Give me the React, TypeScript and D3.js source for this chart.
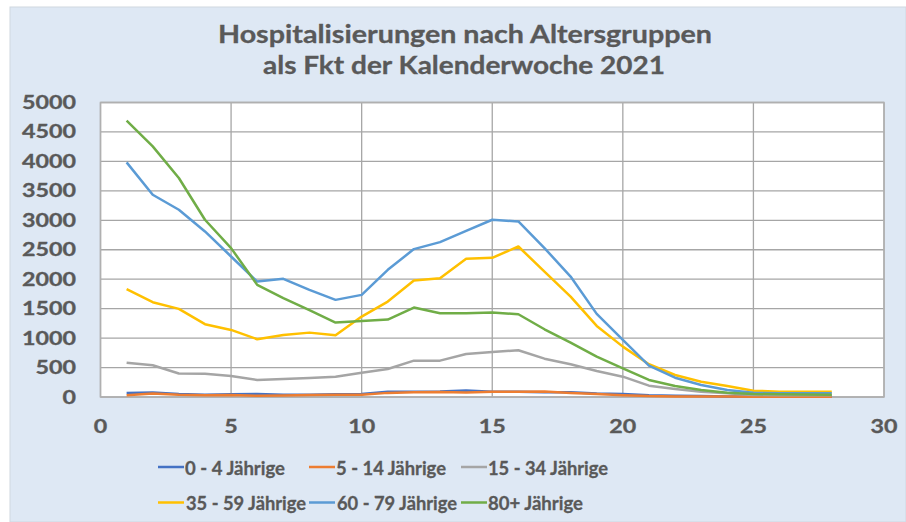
import React from "react";
import * as d3 from "d3";

const weeks = d3.range(1, 29);
const seriesNames = ["0 - 4 Jährige", "5 - 14 Jährige", "15 - 34 Jährige", "35 - 59 Jährige", "60 - 79 Jährige", "80+ Jährige"];
const seriesColors = ["#4472C4", "#ED7D31", "#A5A5A5", "#FFC000", "#5B9BD5", "#70AD47"];

const age0to4 = [70, 75, 50, 40, 45, 50, 40, 40, 45, 50, 90, 90, 95, 110, 90, 90, 80, 80, 60, 50, 30, 20, 15, 10, 10, 10, 10, 10];
const age5to14 = [30, 60, 40, 30, 35, 20, 25, 35, 40, 40, 70, 80, 85, 75, 90, 90, 95, 70, 50, 30, 15, 10, 10, 10, 5, 5, 5, 5];
const age15to34 = [583, 539, 400, 396, 357, 289, 306, 323, 345, 413, 476, 617, 617, 731, 765, 794, 651, 556, 440, 345, 192, 136, 90, 63, 34, 30, 30, 30];
const age35to59 = [1831, 1610, 1496, 1236, 1139, 981, 1054, 1093, 1048, 1365, 1620, 1977, 2017, 2346, 2363, 2555, 2130, 1705, 1207, 855, 556, 374, 260, 187, 107, 90, 90, 90];
const age60to79 = [3984, 3434, 3179, 2811, 2385, 1960, 2006, 1819, 1649, 1734, 2159, 2511, 2630, 2822, 3009, 2980, 2528, 2045, 1411, 969, 533, 328, 204, 119, 73, 63, 63, 63];
const age80plus = [4692, 4255, 3718, 3009, 2528, 1904, 1678, 1475, 1263, 1292, 1314, 1518, 1422, 1422, 1433, 1405, 1150, 924, 685, 487, 289, 187, 119, 73, 51, 45, 42, 40];
const seriesValues = [age0to4, age5to14, age15to34, age35to59, age60to79, age80plus];

const yTicks = [0, 500, 1000, 1500, 2000, 2500, 3000, 3500, 4000, 4500, 5000];
const xTicks = [0, 5, 10, 15, 20, 25, 30];

const FONT = "Lato, 'Open Sans', sans-serif";
const TXT = "#595959";

export default function App() {
  const W = 906, H = 522;
  const left = 100.5, right = 884, top = 102.5, bottom = 397;
  const x = d3.scaleLinear().domain([0, 30]).range([left, right]);
  const y = d3.scaleLinear().domain([0, 5000]).range([bottom, top]);
  const line = d3.line<number>().x((_, i) => x(weeks[i])).y((d) => y(d));

  const labelWidth = (s: string) => s.length * 13.5;

  const legendRows = [
    [{ i: 0, lx: 158, tx: 185, tw: 100 }, { i: 1, lx: 309, tx: 336, tw: 110 }, { i: 2, lx: 461, tx: 488, tw: 120 }],
    [{ i: 3, lx: 158, tx: 186, tw: 120 }, { i: 4, lx: 309, tx: 337, tw: 120 }, { i: 5, lx: 461, tx: 488, tw: 95 }],
  ];
  const legendY = [467, 502.5];

  const textStyle = { fontFamily: FONT, fontWeight: 700, fill: TXT, stroke: TXT, strokeWidth: 0.3 } as const;

  return (
    <svg width={W} height={H} style={{ position: "absolute", left: 0, top: 0 }}>
      <rect x={0} y={0} width={W} height={H} fill="#ffffff" />
      <rect x={10} y={7} width={W - 10} height={H - 7} fill="#DEE8F4" stroke="#D0D7E0" strokeWidth={1} />
      <text x={465} y={43} textAnchor="middle" fontSize={24} {...textStyle} textLength={494} lengthAdjust="spacingAndGlyphs">Hospitalisierungen nach Altersgruppen</text>
      <text x={464} y={74} textAnchor="middle" fontSize={24} {...textStyle} textLength={402} lengthAdjust="spacingAndGlyphs">als Fkt der Kalenderwoche 2021</text>

      <rect x={left} y={top} width={right - left} height={bottom - top} fill="#ffffff" />
      {yTicks.map((t) => (
        <line key={"gy" + t} x1={left} x2={right} y1={y(t)} y2={y(t)} stroke="#A6A6A6" strokeWidth={1.3} />
      ))}
      {xTicks.map((t) => (
        <line key={"gx" + t} x1={x(t)} x2={x(t)} y1={top} y2={bottom} stroke="#A6A6A6" strokeWidth={1.3} />
      ))}
      <rect x={left} y={top} width={right - left} height={bottom - top} fill="none" stroke="#B0B0B0" strokeWidth={1.5} />

      {seriesValues.map((vals, i) => (
        <path key={"s" + i} d={line(vals) || ""} fill="none" stroke={seriesColors[i]} strokeWidth={2.5} strokeLinejoin="round" />
      ))}

      {yTicks.map((t) => (
        <text key={"ly" + t} x={76} y={y(t) + 6.5} textAnchor="end" fontSize={18} {...textStyle} textLength={labelWidth(String(t))} lengthAdjust="spacingAndGlyphs">{t}</text>
      ))}
      {xTicks.map((t) => (
        <text key={"lx" + t} x={x(t)} y={433} textAnchor="middle" fontSize={18} {...textStyle} textLength={labelWidth(String(t))} lengthAdjust="spacingAndGlyphs">{t}</text>
      ))}

      {legendRows.map((row, r) =>
        row.map((e) => (
          <g key={"lg" + e.i}>
            <line x1={e.lx} x2={e.lx + 26} y1={legendY[r]} y2={legendY[r]} stroke={seriesColors[e.i]} strokeWidth={2.5} />
            <text x={e.tx} y={legendY[r] + 7.5} fontSize={19} {...textStyle} textLength={e.tw} lengthAdjust="spacingAndGlyphs">{seriesNames[e.i]}</text>
          </g>
        ))
      )}
    </svg>
  );
}
